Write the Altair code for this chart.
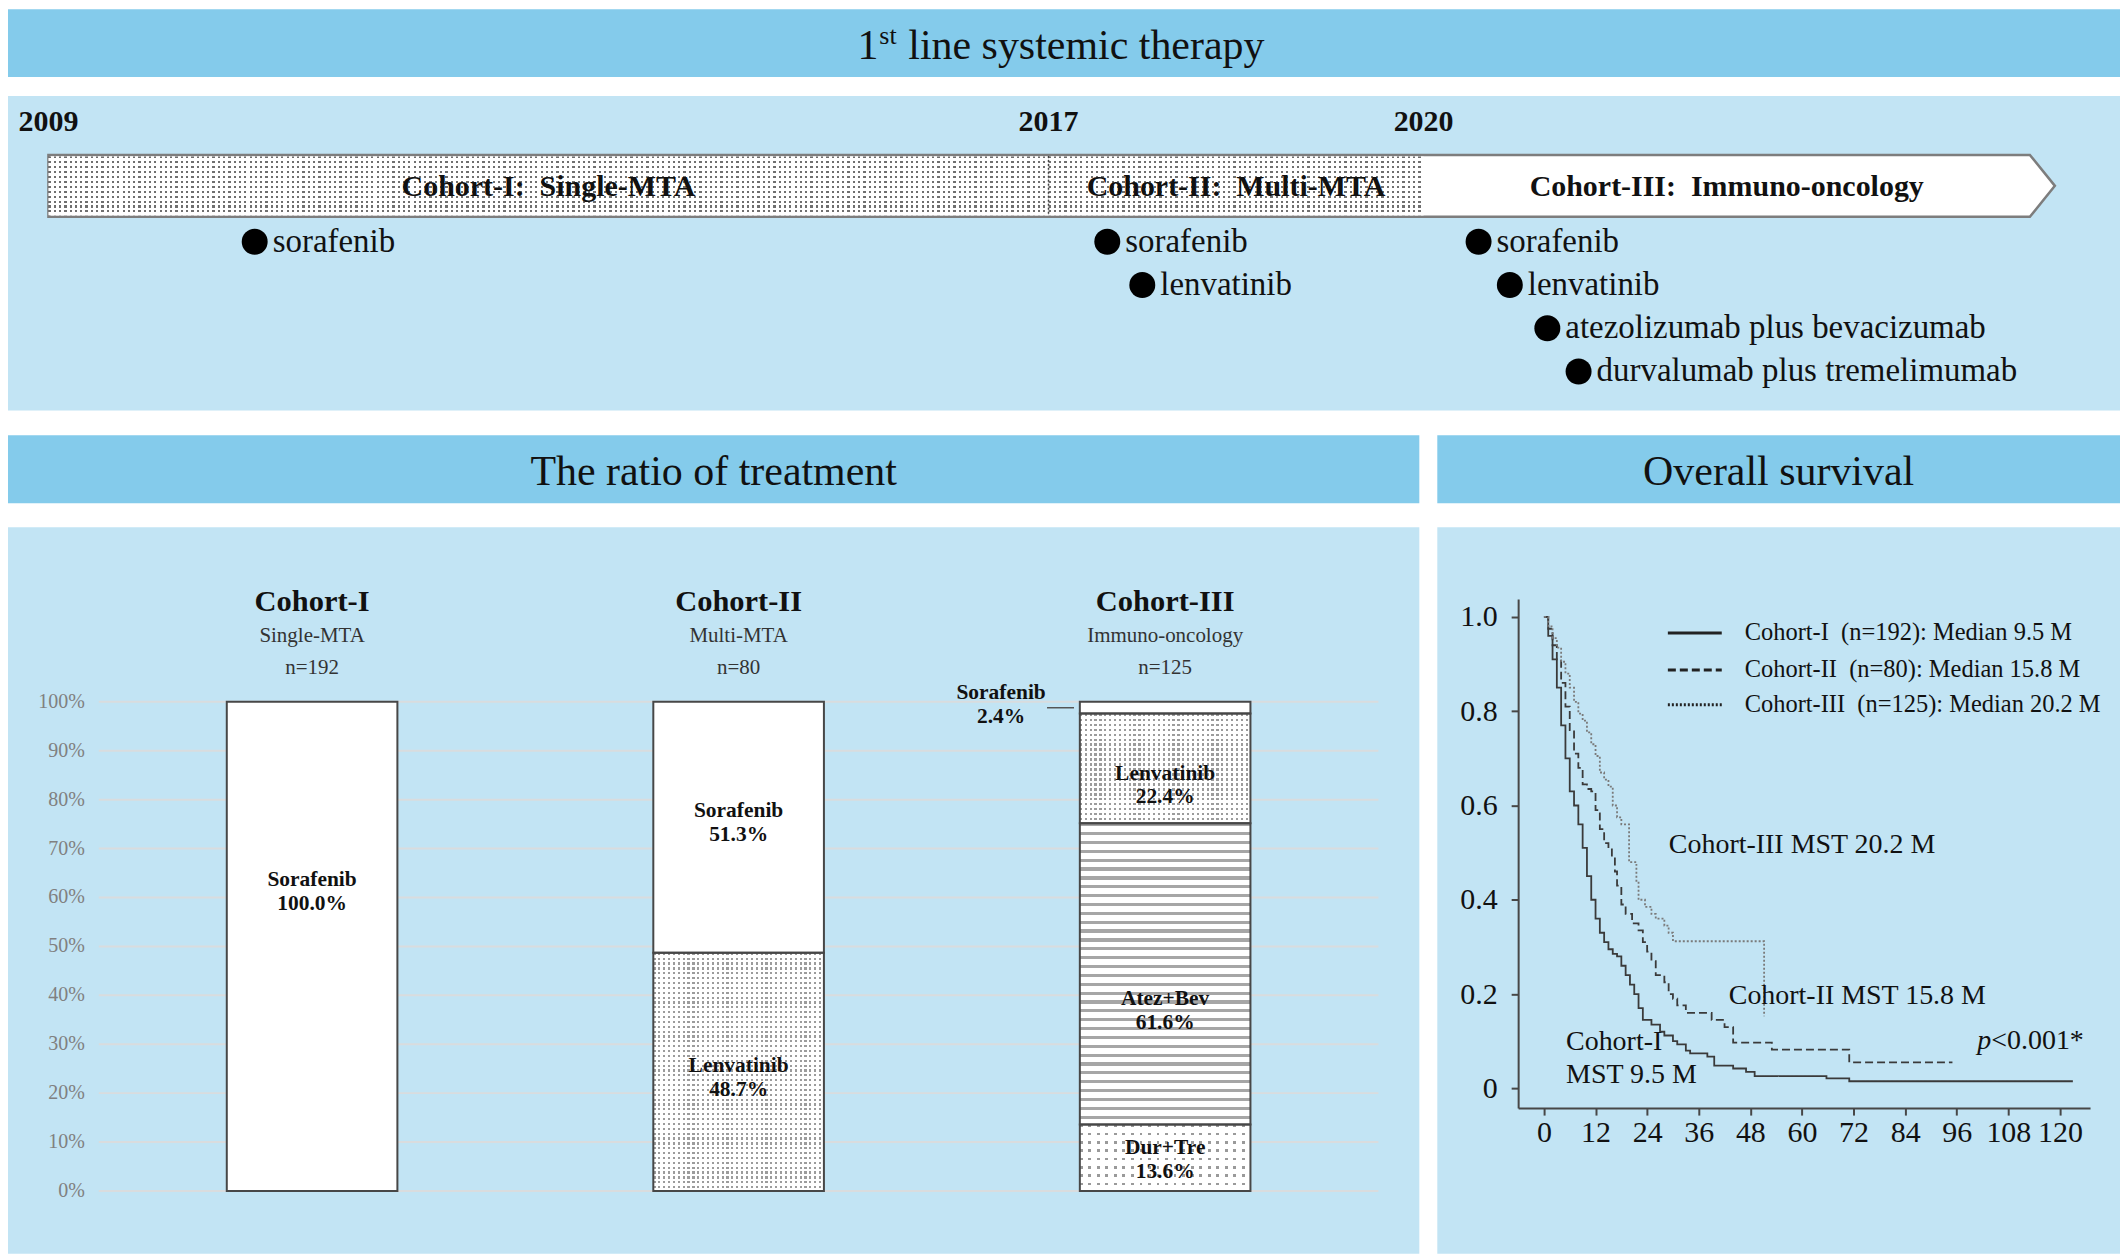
import altair as alt
import pandas as pd

FONT = "Liberation Serif"
HEAD_BG = "#84CBEB"
PANEL_BG = "#C2E4F4"
INK = "#111111"
EDGE = "#474747"

W, WL, GAPX = 2116, 1414, 18
WR = W - WL - GAPX
H_HEAD, H_TL, H_BOT = 68, 315, 728

# ---------------- data ----------------
tl_years = [2009, 2017, 2020]
tl_body_end = 2024.85
tl_arrow_tip = 2025.05
tl_cohorts = ["Cohort-I:\u00a0 Single-MTA", "Cohort-II:\u00a0 Multi-MTA",
              "Cohort-III:\u00a0 Immuno-oncology"]
tl_drugs = ["sorafenib", "sorafenib", "lenvatinib", "sorafenib", "lenvatinib",
            "atezolizumab plus bevacizumab", "durvalumab plus tremelimumab"]
tl_drug_year = [2010.65, 2017.47, 2017.75, 2020.44, 2020.69, 2020.99, 2021.24]
tl_drug_row = [1, 1, 2, 1, 2, 3, 4]

cohorts = ["Cohort-I", "Cohort-II", "Cohort-III"]
cohort_sub = ["Single-MTA", "Multi-MTA", "Immuno-oncology"]
cohort_n = [192, 80, 125]
seg_cohort = ["Cohort-I", "Cohort-II", "Cohort-II", "Cohort-III", "Cohort-III",
              "Cohort-III", "Cohort-III"]
seg_treat = ["Sorafenib", "Lenvatinib", "Sorafenib", "Dur+Tre", "Atez+Bev",
             "Lenvatinib", "Sorafenib"]
seg_pct = [100.0, 48.7, 51.3, 13.6, 61.6, 22.4, 2.4]
seg_label_y = [61.2, 23.1, 75.3, 6.3, 36.7, 82.9, None]
pct_ticks = [0, 10, 20, 30, 40, 50, 60, 70, 80, 90, 100]

km_names = ["Cohort-I\u00a0 (n=192): Median 9.5 M",
            "Cohort-II\u00a0 (n=80): Median 15.8 M",
            "Cohort-III\u00a0 (n=125): Median 20.2 M"]
km1_t = [0, 1, 2, 3, 4, 5, 6, 7, 8, 9, 10, 11, 12, 13, 14, 15, 16, 17, 18, 19, 20, 21,
         22, 23, 25, 27, 28, 30, 31, 33, 34, 38, 39.6, 44, 47, 49, 65.7, 71, 123]
km1_s = [1.0, 0.96, 0.91, 0.85, 0.77, 0.70, 0.63, 0.60, 0.56, 0.51, 0.45, 0.40, 0.36,
         0.33, 0.31, 0.295, 0.285, 0.28, 0.26, 0.24, 0.22, 0.20, 0.17, 0.145, 0.135,
         0.12, 0.112, 0.10, 0.093, 0.08, 0.074, 0.067, 0.048, 0.042, 0.035, 0.026,
         0.021, 0.015, 0.015]
km2_t = [0, 1, 2, 3, 4, 5, 6, 7, 8, 9, 10, 11, 12, 13, 14, 15, 15.8, 16.5, 17, 18, 19,
         20.5, 22, 23, 24, 25, 26, 28, 29, 30, 31, 33, 39, 42, 44, 53, 71, 95]
km2_s = [1.0, 0.975, 0.94, 0.91, 0.86, 0.81, 0.76, 0.71, 0.68, 0.645, 0.635, 0.63,
         0.59, 0.55, 0.52, 0.51, 0.49, 0.46, 0.43, 0.39, 0.37, 0.35, 0.335, 0.31, 0.29,
         0.27, 0.24, 0.225, 0.20, 0.19, 0.176, 0.16, 0.145, 0.13, 0.097, 0.082, 0.055,
         0.055]
km3_t = [0, 1, 2, 3, 4, 5, 6, 7, 8, 9, 10, 11, 12, 13, 14, 15, 16, 17, 18, 19.8, 21.5,
         22, 23.5, 25, 26, 28, 29, 30, 51.2]
km3_s = [1.0, 0.98, 0.955, 0.935, 0.905, 0.88, 0.85, 0.82, 0.795, 0.78, 0.755, 0.73,
         0.705, 0.67, 0.655, 0.64, 0.60, 0.575, 0.56, 0.48, 0.44, 0.40, 0.385, 0.37,
         0.36, 0.345, 0.33, 0.312, 0.153]
km_x_ticks = [0, 12, 24, 36, 48, 60, 72, 84, 96, 108, 120]
km_y_ticks = [0, 0.2, 0.4, 0.6, 0.8, 1.0]


# ---------------- helpers ----------------
def stripes(n, frac, on, off, axis):
    stops = []
    for i in range(n):
        a = round(i / n, 6)
        b = round((i + frac) / n, 6)
        c = round((i + 1) / n, 6)
        stops += [alt.GradientStop(color=on, offset=a), alt.GradientStop(color=on, offset=b),
                  alt.GradientStop(color=off, offset=b), alt.GradientStop(color=off, offset=c)]
    if axis == "x":
        return alt.LinearGradient(gradient="linear", stops=stops, x1=0, x2=1, y1=0, y2=0)
    return alt.LinearGradient(gradient="linear", stops=stops, x1=0, x2=0, y1=0, y2=1)


CLEAR = "rgba(255,255,255,0)"
one = pd.DataFrame({"a": [0]})


def header(title, width):
    return alt.Chart(one).mark_text(
        text=title, font=FONT, fontSize=42, color=INK, align="center", baseline="alphabetic"
    ).encode(x=alt.value(width / 2), y=alt.value(50)).properties(
        width=width, height=H_HEAD, view=alt.ViewBackground(fill=HEAD_BG, stroke=None))


# ---------------- header 1 ----------------
x1 = W / 2 - 186
h1 = alt.layer(
    alt.Chart(one).mark_text(text="1", font=FONT, fontSize=42, color=INK, align="right",
                             baseline="alphabetic").encode(x=alt.value(x1), y=alt.value(50)),
    alt.Chart(one).mark_text(text="st", font=FONT, fontSize=26, color=INK, align="left",
                             baseline="alphabetic").encode(x=alt.value(x1 + 1), y=alt.value(35)),
    alt.Chart(one).mark_text(text="line systemic therapy", font=FONT, fontSize=42, color=INK,
                             align="left", baseline="alphabetic").encode(
        x=alt.value(x1 + 30), y=alt.value(50)),
).properties(width=W, height=H_HEAD, view=alt.ViewBackground(fill=HEAD_BG, stroke=None))

# ---------------- timeline ----------------
PX_PER_YEAR = 125.25
tl_x = alt.Scale(domain=[2009, 2025], range=[40.5, 40.5 + 16 * PX_PER_YEAR], nice=False, zero=False)
tl_y = alt.Scale(domain=[1, 4], range=[146, 276], nice=False, zero=False)

ends = [tl_years[1], tl_years[2], tl_body_end]
periods = pd.DataFrame({"start": tl_years, "end": ends, "label": tl_cohorts,
                        "mid": [(s + e) / 2 for s, e in zip(tl_years, ends)]})
arrow = pd.DataFrame({"x": [tl_years[0], tl_body_end, tl_arrow_tip],
                      "top": [59, 59, 90], "bot": [121, 121, 90]})

tl_layers = [
    alt.Chart(arrow).mark_area(fill="white", stroke="#7d7d7d", strokeWidth=2.5).encode(
        x=alt.X("x:Q", scale=tl_x, axis=None),
        y=alt.Y("top:Q", scale=None, axis=None), y2="bot:Q"),
]
for i in range(2):
    dfi = periods.iloc[[i]]
    nx = round((ends[i] - tl_years[i]) * PX_PER_YEAR / 5.3)
    for fill in (stripes(nx, 0.42, "#6f6f6f", "white", "x"),
                 stripes(12, 0.42, CLEAR, "white", "y")):
        tl_layers.append(alt.Chart(dfi).mark_rect(fill=fill, strokeWidth=0).encode(
            x=alt.X("start:Q", scale=tl_x, axis=None), x2="end:Q",
            y=alt.value(60.5), y2=alt.value(119.5)))
tl_layers += [
    alt.Chart(periods.iloc[[1]]).mark_rule(color="#444444", strokeWidth=1.5, strokeDash=[2, 2]).encode(
        x=alt.X("start:Q", scale=tl_x, axis=None), y=alt.value(60), y2=alt.value(120)),
    alt.Chart(pd.DataFrame({"year": tl_years, "label": [str(y) for y in tl_years]})).mark_text(
        font=FONT, fontSize=30, fontWeight="bold", color=INK, baseline="middle").encode(
        x=alt.X("year:Q", scale=tl_x, axis=None), y=alt.value(26), text="label:N"),
    alt.Chart(periods).mark_text(font=FONT, fontSize=30, fontWeight="bold", color=INK,
                                 baseline="middle").encode(
        x=alt.X("mid:Q", scale=tl_x, axis=None), y=alt.value(91), text="label:N"),
]
drugs = pd.DataFrame({"year": tl_drug_year, "row": tl_drug_row, "drug": tl_drugs})
tl_layers += [
    alt.Chart(drugs).mark_circle(size=676, color="black", opacity=1).encode(
        x=alt.X("year:Q", scale=tl_x, axis=None), y=alt.Y("row:Q", scale=tl_y, axis=None)),
    alt.Chart(drugs).mark_text(font=FONT, fontSize=33, color=INK, align="left", dx=18,
                               baseline="middle").encode(
        x=alt.X("year:Q", scale=tl_x, axis=None), y=alt.Y("row:Q", scale=tl_y, axis=None),
        text="drug:N"),
]
timeline = alt.layer(*tl_layers).resolve_scale(y="independent").properties(
    width=W, height=H_TL, view=alt.ViewBackground(fill=PANEL_BG, stroke=None))

# ---------------- ratio of treatment ----------------
bx = alt.Scale(domain=cohorts, range=[91, 1373], paddingInner=0.6, paddingOuter=0.3)
by = alt.Scale(domain=[0, 100], range=[665, 175], nice=False, zero=False)
PX_PER_PCT = 4.9
BAR_PX = 171

rows, acc = [], {}
for c, t, p, ly in zip(seg_cohort, seg_treat, seg_pct, seg_label_y):
    y0 = acc.get(c, 0.0)
    y1 = y0 + p
    acc[c] = y1
    rows.append({"cohort": c, "treat": t, "pct": p, "y0": y0, "y1": y1,
                 "mid": (y0 + y1) / 2, "label_y": ly,
                 "label": f"{t}\n{p:.1f}%"})
seg = pd.DataFrame(rows)
seg["idx"] = range(len(seg))
ticks_df = pd.DataFrame({"v": pct_ticks, "lab": [f"{v}%" for v in pct_ticks]})

X = alt.X("cohort:N", scale=bx, axis=None)
Y = alt.Y("y0:Q", scale=by, axis=None)

bar_layers = [
    alt.Chart(ticks_df).mark_rule(color="#d9dcde", strokeWidth=2).encode(
        x=alt.value(91), x2=alt.value(1373), y=alt.Y("v:Q", scale=by, axis=None)),
    alt.Chart(ticks_df).mark_text(font=FONT, fontSize=20, color="#808080", align="right",
                                  baseline="middle").encode(
        x=alt.value(77), y=alt.Y("v:Q", scale=by, axis=None), text="lab:N"),
    alt.Chart(seg).mark_bar(fill="white", strokeWidth=0).encode(x=X, y=Y, y2="y1:Q"),
]
styles = {"Lenvatinib": ("dots", 4.9, 0.45, "#9c9c9c"),
          "Dur+Tre": ("dots", 8.5, 0.33, "#9a9a9a"),
          "Atez+Bev": ("hlines", 8.8, 0.36, "#a6a6a6")}
for _, r in seg.iterrows():
    if r["treat"] not in styles:
        continue
    kind, period, frac, col = styles[r["treat"]]
    hpx = r["pct"] * PX_PER_PCT
    ny = max(1, round(hpx / period))
    nx = max(1, round(BAR_PX / period))
    if kind == "dots":
        fills = [stripes(nx, frac, col, "white", "x"), stripes(ny, frac, CLEAR, "white", "y")]
    else:
        fills = [stripes(ny, frac, col, "white", "y")]
    for f in fills:
        bar_layers.append(
            alt.Chart(seg).transform_filter(f"datum.idx == {int(r['idx'])}").mark_bar(
                fill=f, strokeWidth=0).encode(x=X, y=Y, y2="y1:Q"))
bar_layers.append(alt.Chart(seg).mark_bar(fillOpacity=0, stroke=EDGE, strokeWidth=2).encode(
    x=X, y=Y, y2="y1:Q"))

coh = pd.DataFrame({"cohort": cohorts, "sub": cohort_sub,
                    "ntext": [f"n={n}" for n in cohort_n]})
bar_layers += [
    alt.Chart(coh).mark_text(font=FONT, fontSize=30.5, fontWeight="bold", color=INK,
                             baseline="middle").encode(x=X, y=alt.value(75), text="cohort:N"),
    alt.Chart(coh).mark_text(font=FONT, fontSize=21, color="#333333",
                             baseline="middle").encode(x=X, y=alt.value(109), text="sub:N"),
    alt.Chart(coh).mark_text(font=FONT, fontSize=21, color="#333333",
                             baseline="middle").encode(x=X, y=alt.value(141), text="ntext:N"),
    alt.Chart(seg).transform_filter("datum.label_y != null").mark_text(
        font=FONT, fontSize=21.5, fontWeight="bold", color=INK, lineBreak="\n", lineHeight=24,
        baseline="middle", dy=-12).encode(
        x=X, y=alt.Y("label_y:Q", scale=by, axis=None), text="label:N"),
    alt.Chart(seg).transform_filter("datum.label_y == null").mark_text(
        font=FONT, fontSize=21.5, fontWeight="bold", color=INK, lineBreak="\n", lineHeight=24,
        baseline="middle", dy=-12).encode(x=alt.value(995), y=alt.value(178), text="label:N"),
    alt.Chart(seg).transform_filter("datum.label_y == null").mark_rule(
        color="#555555", strokeWidth=1.5).encode(
        x=alt.value(1041), x2=alt.value(1068), y=alt.Y("mid:Q", scale=by, axis=None)),
]
bars = alt.layer(*bar_layers).properties(
    width=WL, height=H_BOT, view=alt.ViewBackground(fill=PANEL_BG, stroke=None))

# ---------------- overall survival ----------------
kx = alt.Scale(domain=[-6, 127], range=[81, 654], nice=False, zero=False)
ky = alt.Scale(domain=[-0.042, 1.038], range=[582, 72], nice=False, zero=False)
km = pd.concat([
    pd.DataFrame({"cohort": km_names[0], "t": km1_t, "s": km1_s}),
    pd.DataFrame({"cohort": km_names[1], "t": km2_t, "s": km2_s}),
    pd.DataFrame({"cohort": km_names[2], "t": km3_t, "s": km3_s}),
])
dashes = [[1, 0], [8, 4], [2, 2]]
colors = ["#3a3a3a", "#3a3a3a", "#7a7a7a"]
kx_axis = alt.Axis(values=km_x_ticks, offset=-(H_BOT - 582), domainColor=EDGE, domainWidth=2,
                   tickColor=EDGE, tickWidth=2, tickSize=7, labelFont=FONT, labelFontSize=30,
                   labelColor=INK, labelPadding=2, grid=False, title=None, labelFlush=False,
                   labelOverlap=False)
ky_axis = alt.Axis(values=km_y_ticks, offset=-81, domainColor=EDGE, domainWidth=2,
                   tickColor=EDGE, tickWidth=2, tickSize=7, labelFont=FONT, labelFontSize=30,
                   labelColor=INK, labelPadding=14, grid=False, title=None,
                   labelExpr="datum.value == 0 ? '0' : format(datum.value, '.1f')")
km_layers = [
    alt.Chart(km).mark_line(interpolate="step-after", strokeWidth=1.8).encode(
        x=alt.X("t:Q", scale=kx, axis=kx_axis),
        y=alt.Y("s:Q", scale=ky, axis=ky_axis),
        color=alt.Color("cohort:N", scale=alt.Scale(domain=km_names, range=colors), legend=None),
        strokeDash=alt.StrokeDash("cohort:N", scale=alt.Scale(domain=km_names, range=dashes),
                                  legend=None),
        order="t:Q")
]
leg_y = [106, 143, 178]
for name, d, ly in zip(km_names, dashes, leg_y):
    km_layers.append(alt.Chart(one).mark_rule(color="#222222", strokeWidth=3, strokeDash=d).encode(
        x=alt.value(231), x2=alt.value(285), y=alt.value(ly)))
    km_layers.append(alt.Chart(one).mark_text(text=name, font=FONT, fontSize=24.5, color=INK,
                                              align="left", baseline="middle").encode(
        x=alt.value(308), y=alt.value(ly)))
notes = [("Cohort-III MST 20.2 M", 232, 318), ("Cohort-II MST 15.8 M", 292, 470),
         ("Cohort-I", 129, 516), ("MST 9.5 M", 129, 549), ("<0.001*", 555, 515)]
for txt, nx_, ny_ in notes:
    km_layers.append(alt.Chart(one).mark_text(text=txt, font=FONT, fontSize=28, color=INK,
                                              align="left", baseline="middle").encode(
        x=alt.value(nx_), y=alt.value(ny_)))
km_layers.append(alt.Chart(one).mark_text(text="p", font=FONT, fontSize=28, fontStyle="italic",
                                          color=INK, align="left", baseline="middle").encode(
    x=alt.value(541), y=alt.value(515)))
kmchart = alt.layer(*km_layers).properties(
    width=WR, height=H_BOT, view=alt.ViewBackground(fill=PANEL_BG, stroke=None))

# ---------------- compose ----------------
top = alt.vconcat(h1, timeline, spacing=19)
left = alt.vconcat(header("The ratio of treatment", WL), bars, spacing=24)
right = alt.vconcat(header("Overall survival", WR), kmchart, spacing=24)
bottom = alt.hconcat(left, right, spacing=GAPX)
chart = alt.vconcat(top, bottom, spacing=25).properties(padding=0).configure_view(stroke=None)

chart.save("out.html", embed_options={"renderer": "svg", "actions": False})
